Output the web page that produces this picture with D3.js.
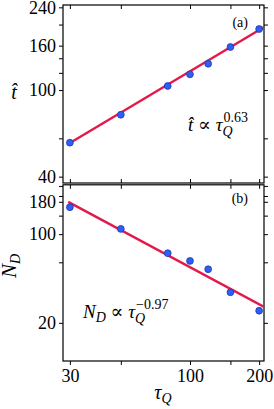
<!DOCTYPE html>
<html>
<head>
<meta charset="utf-8">
<script src="https://cdn.jsdelivr.net/npm/d3@7"></script>
<style>
  body { margin: 0; background: #fff; }
  svg { display: block; font-family: "Liberation Serif", "DejaVu Serif", serif; }
  .spine { fill: none; stroke: #000; stroke-width: 1.2; }
  .tick line { stroke: #000; stroke-width: 1; }
</style>
</head>
<body>
<div id="chart"></div>
<script>
// quench times (shared x values)
const tauQ = [30, 50, 80, 100, 120, 150, 200];
// panel (a): freeze-out time t-hat
const tHat = [57.3, 77.0, 104.4, 118.1, 132.1, 157.7, 190.8];
// panel (b): number of defects N_D
const nD = [163, 110, 70.8, 61.5, 52.9, 34.8, 24.9];

// fitted power laws
const fitA = { amp: 6.70, exp: 0.63 };
const fitB = { amp: 4786, exp: -0.97 };
const fitRange = [29.5, 212];

const xTicks = [30, 50, 100, 150, 200];
const xLabels = [30, 100, 200];
const yTicksA = [40, 60, 100, 120, 140, 160, 200, 240];
const yLabelsA = [40, 100, 160, 240];
const yTicksB = [20, 60, 100, 140, 180, 200, 240];
const yLabelsB = [20, 100, 180];

const width = 274, height = 409;
const left = 63, right = 264;

const svg = d3.select('#chart').append('svg')
    .attr('width', width)
    .attr('height', height);

const x = d3.scaleLog().domain([28, 210]).range([left, right]);

const panels = [
    { top: 5, bottom: 183, domain: [37.4, 246], ticks: yTicksA, labels: yLabelsA,
      ys: tHat, fit: fitA, tag: '(a)', tagY: 27 },
    { top: 184.8, bottom: 361, domain: [10, 245], ticks: yTicksB, labels: yLabelsB,
      ys: nD, fit: fitB, tag: '(b)', tagY: 203 }
];

panels.forEach((p, i) => {
    const y = d3.scaleLog().domain(p.domain).range([p.bottom, p.top]);

    svg.append('clipPath').attr('id', 'clip' + i)
        .append('rect')
        .attr('x', left).attr('y', p.top)
        .attr('width', right - left).attr('height', p.bottom - p.top);

    const fmtY = d => p.labels.includes(d) ? d : '';
    const fmtX = d => xLabels.includes(d) ? d : '';

    const yl = svg.append('g')
        .attr('transform', `translate(${left},0)`)
        .call(d3.axisLeft(y).tickValues(p.ticks).tickFormat(fmtY).tickSize(4).tickPadding(3));
    const yr = svg.append('g')
        .attr('transform', `translate(${right},0)`)
        .call(d3.axisRight(y).tickValues(p.ticks).tickFormat('').tickSize(4));
    const xb = svg.append('g')
        .attr('transform', `translate(0,${p.bottom})`)
        .call(i === 1
            ? d3.axisBottom(x).tickValues(xTicks).tickFormat(fmtX).tickSize(4).tickPadding(4)
            : d3.axisTop(x).tickValues(xTicks).tickFormat('').tickSize(4));
    const xt = svg.append('g')
        .attr('transform', `translate(0,${p.top})`)
        .call(d3.axisBottom(x).tickValues(xTicks).tickFormat('').tickSize(4));

    [yl, yr, xb, xt].forEach(ax => {
        ax.select('.domain').remove();
        ax.attr('font-family', null).attr('font-size', null);
        ax.selectAll('text')
            .style('font-size', '18px')
            .attr('fill', '#000');
    });

    svg.append('rect').attr('class', 'spine')
        .attr('x', left).attr('y', p.top)
        .attr('width', right - left).attr('height', p.bottom - p.top);

    // fit line
    const fitPts = fitRange.map(t => [t, p.fit.amp * Math.pow(t, p.fit.exp)]);
    svg.append('path')
        .datum(fitPts)
        .attr('clip-path', `url(#clip${i})`)
        .attr('fill', 'none')
        .attr('stroke', '#e3194b')
        .attr('stroke-width', 2.4)
        .attr('d', d3.line().x(d => x(d[0])).y(d => y(d[1])));

    // data points
    svg.append('g').selectAll('circle')
        .data(tauQ.map((t, k) => [t, p.ys[k]]))
        .enter().append('circle')
        .attr('cx', d => x(d[0]))
        .attr('cy', d => y(d[1]))
        .attr('r', 3.4)
        .attr('fill', '#2f5ef7')
        .attr('stroke', '#1c3aa8')
        .attr('stroke-width', 0.8);

    svg.append('text')
        .attr('x', 248).attr('y', p.tagY)
        .attr('text-anchor', 'end')
        .style('font-size', '14px')
        .text(p.tag);
});

// axis titles
svg.append('text')
    .attr('x', 14).attr('y', 99)
    .attr('text-anchor', 'middle')
    .style('font-size', '20px')
    .style('font-style', 'italic')
    .text('t\u0302');

const nl = svg.append('text')
    .attr('transform', 'translate(16,266) rotate(-90)')
    .attr('text-anchor', 'middle')
    .style('font-size', '21px')
    .style('font-style', 'italic');
nl.append('tspan').text('N');
nl.append('tspan').attr('baseline-shift', '-25%').style('font-size', '14px').text('D');

const xl = svg.append('text')
    .attr('x', 163).attr('y', 399)
    .attr('text-anchor', 'middle')
    .style('font-size', '20px')
    .style('font-style', 'italic');
xl.append('tspan').text('\u03c4');
xl.append('tspan').attr('baseline-shift', '-30%').style('font-size', '14px').text('Q');

// power-law annotations
const la = svg.append('text')
    .attr('x', 188).attr('y', 131)
    .style('font-size', '19px')
    .style('font-style', 'italic');
la.append('tspan').text('t\u0302 \u221d \u03c4');
la.append('tspan').attr('dy', 5).style('font-size', '14px').text('Q');
la.append('tspan').attr('dx', -9).attr('dy', -14).style('font-size', '14px').style('font-style', 'normal').text('0.63');

const lb = svg.append('text')
    .attr('x', 83).attr('y', 318)
    .style('font-size', '19px')
    .style('font-style', 'italic');
lb.append('tspan').text('N');
lb.append('tspan').attr('dy', 4).style('font-size', '14px').text('D');
lb.append('tspan').attr('dy', -4).text(' \u221d \u03c4');
lb.append('tspan').attr('dy', 5).style('font-size', '14px').text('Q');
lb.append('tspan').attr('dx', -9).attr('dy', -14).style('font-size', '14px').style('font-style', 'normal').text('\u22120.97');
</script>
</body>
</html>
